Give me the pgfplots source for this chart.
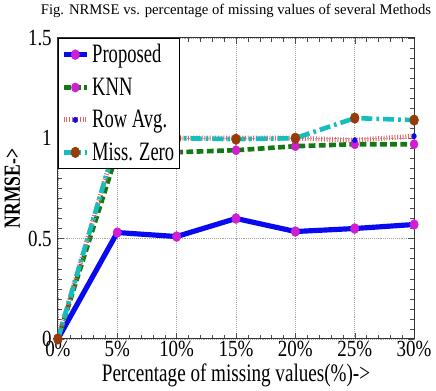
\documentclass[border=0pt]{standalone}
\usepackage{pgfplots}
\pgfplotsset{compat=1.18}
\usepackage{fontspec}
\setmainfont{Liberation Serif}
\newfontfamily\tickfont[FakeStretch=0.82]{Liberation Serif}
\newfontfamily\tallfont[FakeStretch=0.76]{Liberation Serif}
\newfontfamily\legfont[FakeStretch=0.7]{Liberation Serif}
\definecolor{mblue}{RGB}{10,10,240}
\definecolor{mgreen}{RGB}{20,120,20}
\definecolor{mmag}{RGB}{210,30,210}
\definecolor{mred}{RGB}{225,100,100}
\definecolor{mcyan}{RGB}{20,190,190}
\definecolor{mbrown}{RGB}{150,60,10}
\begin{document}
\begin{tikzpicture}
\begin{axis}[
  width=262pt, height=221.5pt, scale only axis,
  xmin=0, xmax=30, ymin=0, ymax=1.5,
  xtick={0,5,...,30},
  xticklabels={0\%,5\%,10\%,15\%,20\%,25\%,30\%},
  ytick={0,0.5,1,1.5},
  yticklabels={0,0.5,1,1.5},
  minor x tick num=4, minor y tick num=9,
  tick align=inside, tick pos=both,
  xmajorgrids, ymajorgrids,
  grid style={densely dotted, gray!70},
  axis line style={black!80, line width=0.8pt},
  tick style={black!70},
  /pgf/number format/assume math mode=true,
  ticklabel style={font=\tickfont\fontsize{17}{17}\selectfont},
  xticklabel style={yshift=2pt},
  yticklabel style={xshift=-1pt},
  xlabel={Percentage of missing values(\%)->},
  xlabel style={yshift=2pt, font=\tallfont\fontsize{18.5}{19}\selectfont},
  ylabel={\textbf{NRMSE->}},
  ylabel style={yshift=-1pt, font=\tallfont\fontsize{17}{17}\selectfont},
  title={Fig. NRMSE vs. percentage of missing values of several Methods},
  title style={font=\fontsize{10.8}{11}\selectfont, yshift=5pt},
  legend style={at={(0,1)}, anchor=north west, font=\legfont\fontsize{19.5}{19.5}\selectfont,
    draw=black, line width=0.8pt, inner xsep=2pt, inner ysep=2.5pt, row sep=5.5pt, cells={anchor=west}},
  legend cell align=left,
  legend image code/.code={\draw[mark repeat=2,mark phase=2,#1] plot coordinates {(0cm,0cm) (0.3cm,0cm) (0.6cm,0cm)};},
]
\addplot[mblue, line width=3.8pt, mark=*, mark size=3pt, mark options={mmag, draw=mmag, solid, line width=0.5pt, yscale=1.2}]
 coordinates {(0,0) (5,0.53) (10,0.51) (15,0.60) (20,0.535) (25,0.55) (30,0.57)};
\addlegendentry{Proposed}
\addplot[mgreen, line width=3.4pt, dash pattern=on 5pt off 2.5pt, mark=*, mark size=2.8pt, mark options={mmag, draw=mmag, solid, line width=0.5pt, yscale=1.2}]
 coordinates {(0,0) (5,0.93) (10,0.93) (15,0.94) (20,0.96) (25,0.97) (30,0.97)};
\addlegendentry{KNN}
\addplot[mred, line width=3.6pt, dash pattern=on 0.7pt off 1.3pt, mark=*, mark size=1.6pt, mark options={mblue, draw=mblue, solid, line width=0.5pt, yscale=1.2}]
 coordinates {(0,0) (5,1.0) (10,1.0) (15,1.0) (20,1.0) (25,0.99) (30,1.01)};
\addlegendentry{Row Avg.}
\addplot[mcyan, line width=3.4pt, dash pattern=on 8pt off 3pt on 2pt off 3pt, mark=*, mark size=3.2pt, mark options={mbrown, draw=mbrown, solid, line width=0.5pt, yscale=1.2}]
 coordinates {(0,0) (5,1.0) (10,1.0) (15,0.995) (20,1.0) (25,1.10) (30,1.09)};
\addlegendentry{Miss. Zero}
\end{axis}
\end{tikzpicture}
\end{document}
